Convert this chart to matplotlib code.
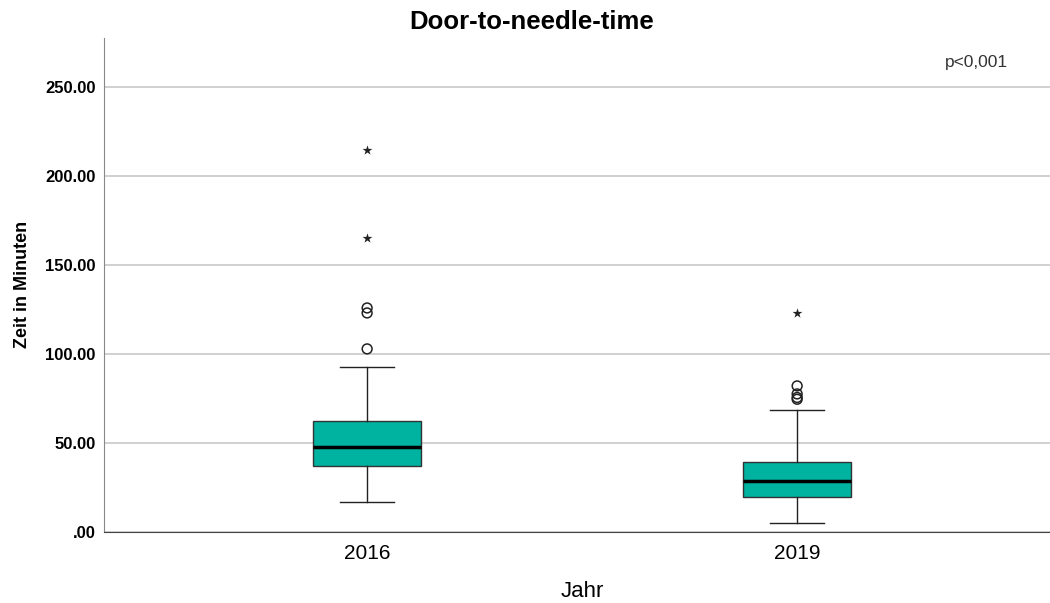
import numpy as np
import matplotlib.pyplot as plt

plt.rcParams['font.family'] = ['Liberation Sans', 'DejaVu Sans']

years = ['2016', '2019']
q1 = [37.1, 19.7]
median = [47.8, 28.7]
q3 = [62.4, 39.3]
whisker_low = [16.9, 5.0]
whisker_high = [92.7, 68.5]
outliers_circle = [[102.8, 123.0, 125.8], [74.5, 75.5, 77.5, 82.0]]
outliers_star = [[165.0, 214.6], [123.0]]
yticks = [0, 50, 100, 150, 200, 250]

fig, ax = plt.subplots(figsize=(10.5, 6.03), dpi=100)
plt.subplots_adjust(left=0.099, right=1.0, bottom=0.118, top=0.937)

pos = [1, 2]
stats = []
for i in range(2):
    stats.append(dict(med=median[i], q1=q1[i], q3=q3[i],
                      whislo=whisker_low[i], whishi=whisker_high[i], fliers=[]))
ax.bxp(stats, positions=pos, widths=0.25, patch_artist=True, showfliers=False,
       boxprops=dict(facecolor='#00b2a0', edgecolor='#333333', linewidth=1.0),
       medianprops=dict(color='black', linewidth=2.5),
       whiskerprops=dict(color='#222222', linewidth=1.0),
       capprops=dict(color='#222222', linewidth=1.0), capwidths=0.125)

for i, p in enumerate(pos):
    ax.scatter([p] * len(outliers_circle[i]), outliers_circle[i], marker='o', s=50,
               facecolors='none', edgecolors='#222222', linewidths=1.1, zorder=3)
    ax.scatter([p] * len(outliers_star[i]), outliers_star[i], marker='*', s=55,
               color='#222222', linewidths=0, zorder=3)

ax.set_xlim(0.388, 2.588)
ax.set_ylim(0, 277.5)
ax.set_yticks(yticks)
ax.set_yticklabels(['.00' if t == 0 else f'{t:.2f}' for t in yticks], fontweight='bold', fontsize=12)
ax.set_xticks(pos)
ax.set_xticklabels(years, fontsize=15)
ax.tick_params(axis='y', length=0, pad=6)
ax.tick_params(axis='x', length=0, pad=9)
ax.grid(axis='y', color='#c8c8c8', linewidth=1.2)
ax.set_axisbelow(True)
for s in ['top', 'right']:
    ax.spines[s].set_visible(False)
ax.spines['left'].set_color('#888888')
ax.spines['bottom'].set_color('#444444')

fig.text(0.506, 0.963, 'Door-to-needle-time', fontsize=18.5, fontweight='bold', ha='center', va='center')
ax.set_xlabel('Jahr', fontsize=16)
ax.xaxis.set_label_coords(0.506, -0.1)
ax.set_ylabel('Zeit in Minuten', fontsize=13, fontweight='bold', labelpad=10)
ax.text(0.956, 0.965, 'p<0,001', transform=ax.transAxes, ha='right', va='top', fontsize=12.5, color='#333333')

plt.savefig('out.png', dpi=100, facecolor='white')
